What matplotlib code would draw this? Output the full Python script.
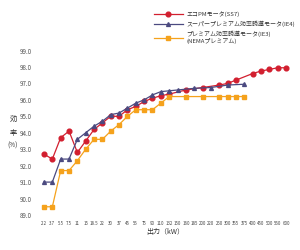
import matplotlib
matplotlib.use("Agg")
import matplotlib.pyplot as plt
import numpy as np

plt.rcParams['font.family'] = ['Noto Sans CJK JP', 'DejaVu Sans']

categories = ["2.2", "3.7", "5.5", "7.5", "11", "15", "18.5", "22", "30", "37", "45", "55",
              "75", "90", "110", "132", "150", "160", "185", "200", "220", "250", "300",
              "355", "375", "400", "450", "500", "560", "600"]

ss7 = [92.7, 92.4, 93.7, 94.1, 92.8, 93.5, 94.2, 94.6, 95.0, 95.0, 95.4, 95.6,
       95.9, 96.1, 96.25, 96.35, None, 96.6, None, 96.75, None, 96.9, 97.0,
       97.2, None, 97.6, 97.75, 97.85, 97.95, 97.95]
ie4 = [91.0, 91.0, 92.4, 92.4, 93.6, 94.0, 94.4, 94.7, 95.1, 95.2, 95.5, 95.8,
       96.0, 96.3, 96.5, 96.55, 96.6, None, 96.7, None, 96.75, None, 96.9,
       None, 96.95, None, None, None, None, None]
ie3 = [89.5, 89.5, 91.7, 91.7, 92.3, 93.0, 93.6, 93.6, 94.1, 94.5, 95.0, 95.4,
       95.4, 95.4, 95.8, 96.2, None, 96.2, None, 96.2, None, 96.2, 96.2,
       96.2, 96.2, None, None, None, None, None]

labels = ["エコPMモータ(SS7)", "スーパープレミアム効率誘導モータ(IE4)",
          "プレミアム効率誘導モータ(IE3)\n(NEMAプレミアム)"]
yticks = [89.0, 90.0, 91.0, 92.0, 93.0, 94.0, 95.0, 96.0, 97.0, 98.0, 99.0]

fig = plt.figure(figsize=(3.0, 2.5), dpi=100)
ax = fig.add_axes([0.1327, 0.14, 0.8347, 0.658])

def valid(vals):
    xs = [i for i, v in enumerate(vals) if v is not None]
    ys = [v for v in vals if v is not None]
    return xs, ys

styles = [
    (ss7, "#d21f2f", "o", 3.4),
    (ie4, "#4b4a80", "^", 2.8),
    (ie3, "#f5a21c", "s", 2.4),
]
for (vals, col, mk, ms), lab in zip(styles, labels):
    xs, ys = valid(vals)
    ax.plot(xs, ys, color=col, marker=mk, markersize=ms, linewidth=0.9, label=lab)

ax.set_xlim(-0.5, len(categories) - 0.5)
ax.set_ylim(89.0, 99.0)
ax.set_xticks(range(len(categories)))
ax.set_xticklabels(categories, fontsize=3.2, color="#444444")
ax.set_yticks(yticks)
ax.set_yticklabels([f"{v:.1f}" for v in yticks], fontsize=4.5, color="#555555")
ax.tick_params(length=0)
ax.tick_params(axis='y', pad=6)
ax.tick_params(axis='x', pad=4)
for s in ax.spines.values():
    s.set_visible(False)

fig.text(165 / 300, 1 - 232 / 250, "出力（kW）", fontsize=5, ha="center", va="center", color="#333333")
fig.text(13 / 300, 1 - 119 / 250, "効", fontsize=5.2, ha="center", va="center", color="#333333")
fig.text(13 / 300, 1 - 133 / 250, "率", fontsize=5.2, ha="center", va="center", color="#333333")
fig.text(13 / 300, 1 - 146 / 250, "(%)", fontsize=4.6, ha="center", va="center", color="#333333")

leg = ax.legend(loc="upper left", bbox_to_anchor=(154 / 300, 1 - 11.5 / 250),
                bbox_transform=fig.transFigure, frameon=False, fontsize=4.3,
                handlelength=4.8, handletextpad=0.6, labelspacing=0.6,
                borderaxespad=0, borderpad=0)
for t in leg.get_texts():
    t.set_color("#333333")

fig.savefig("out.png", dpi=100)
